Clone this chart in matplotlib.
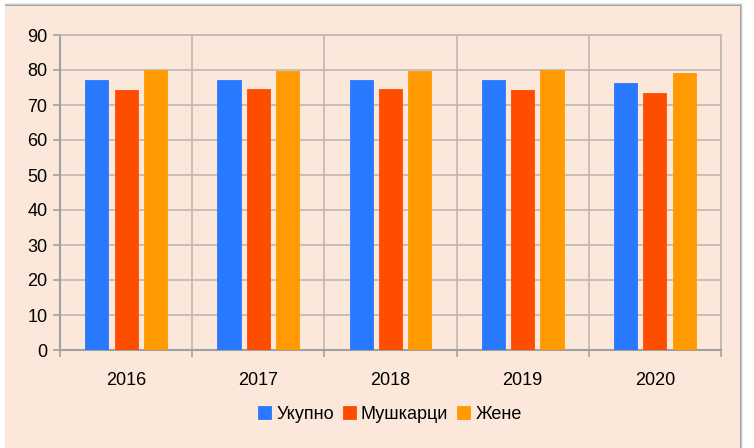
import numpy as np
import matplotlib.pyplot as plt
from matplotlib.patches import Rectangle

years = ["2016", "2017", "2018", "2019", "2020"]
ukupno = [77.2, 77.1, 77.2, 77.1, 76.3]
muskarci = [74.4, 74.6, 74.5, 74.3, 73.4]
zene = [80.1, 79.7, 79.8, 80.0, 79.2]
series_names = ["Укупно", "Мушкарци", "Жене"]
colors = ["#2979FF", "#FF4D00", "#FF9A00"]
bg = "#FCE8DA"

plt.rcParams["font.family"] = ["Liberation Sans", "DejaVu Sans"]

fig = plt.figure(figsize=(7.54, 4.48), dpi=100, facecolor="white")

# shadowed frame
for i, a in enumerate([0.08, 0.14, 0.2]):
    off = (3 - i) / 754
    fig.patches.append(Rectangle((5 / 754, 0), 735 / 754 + off, 442 / 448 + off * 754 / 448,
                                 transform=fig.transFigure, facecolor="black", alpha=a,
                                 edgecolor="none", zorder=0))
fig.patches.append(Rectangle((5 / 754, 0), 735 / 754, 442 / 448, transform=fig.transFigure,
                             facecolor=bg, edgecolor="none", zorder=0.5))

ax = fig.add_axes([60 / 754, 1 - 350 / 448, 661 / 754, 315 / 448])
ax.set_zorder(2)
ax.set_facecolor(bg)

x = np.arange(len(years))
w = 0.175
step = 0.222
for k, (vals, name, c) in enumerate(zip([ukupno, muskarci, zene], series_names, colors)):
    ax.bar(x + (k - 1) * step, vals, w, color=c, label=name, zorder=3,
           edgecolor=c, linewidth=0.6)

ax.set_ylim(0, 90)
ax.set_yticks(range(0, 91, 10))
ax.set_xlim(-0.5, len(years) - 0.5)
ax.set_xticks(x)
ax.set_xticklabels(years)
ax.set_xticks(np.arange(-0.5, len(years), 1.0), minor=True)
ax.tick_params(axis="x", which="major", length=0, pad=16, labelsize=13)
ax.tick_params(axis="x", which="minor", length=5, color="#A0A0A0", width=1.2)
ax.tick_params(axis="y", length=5, color="#A0A0A0", width=1.2, labelsize=13, pad=4)

ax.grid(True, axis="y", color="#BDB7B2", linewidth=1.2, zorder=0)
ax.grid(True, axis="x", which="minor", color="#BDB7B2", linewidth=1.2, zorder=0)
for s in ["top", "right"]:
    ax.spines[s].set_color("#BDB7B2")
    ax.spines[s].set_linewidth(1.2)
for s in ["left", "bottom"]:
    ax.spines[s].set_color("#A0A0A0")
    ax.spines[s].set_linewidth(1.5)

leg = fig.legend(loc="center", bbox_to_anchor=(390 / 754, 1 - 414 / 448), ncol=3, frameon=False,
                 fontsize=13, handlelength=0.7, handleheight=0.7, handletextpad=0.3,
                 columnspacing=0.5)
leg.set_zorder(3)

fig.savefig("out.png", dpi=100, facecolor="white")
